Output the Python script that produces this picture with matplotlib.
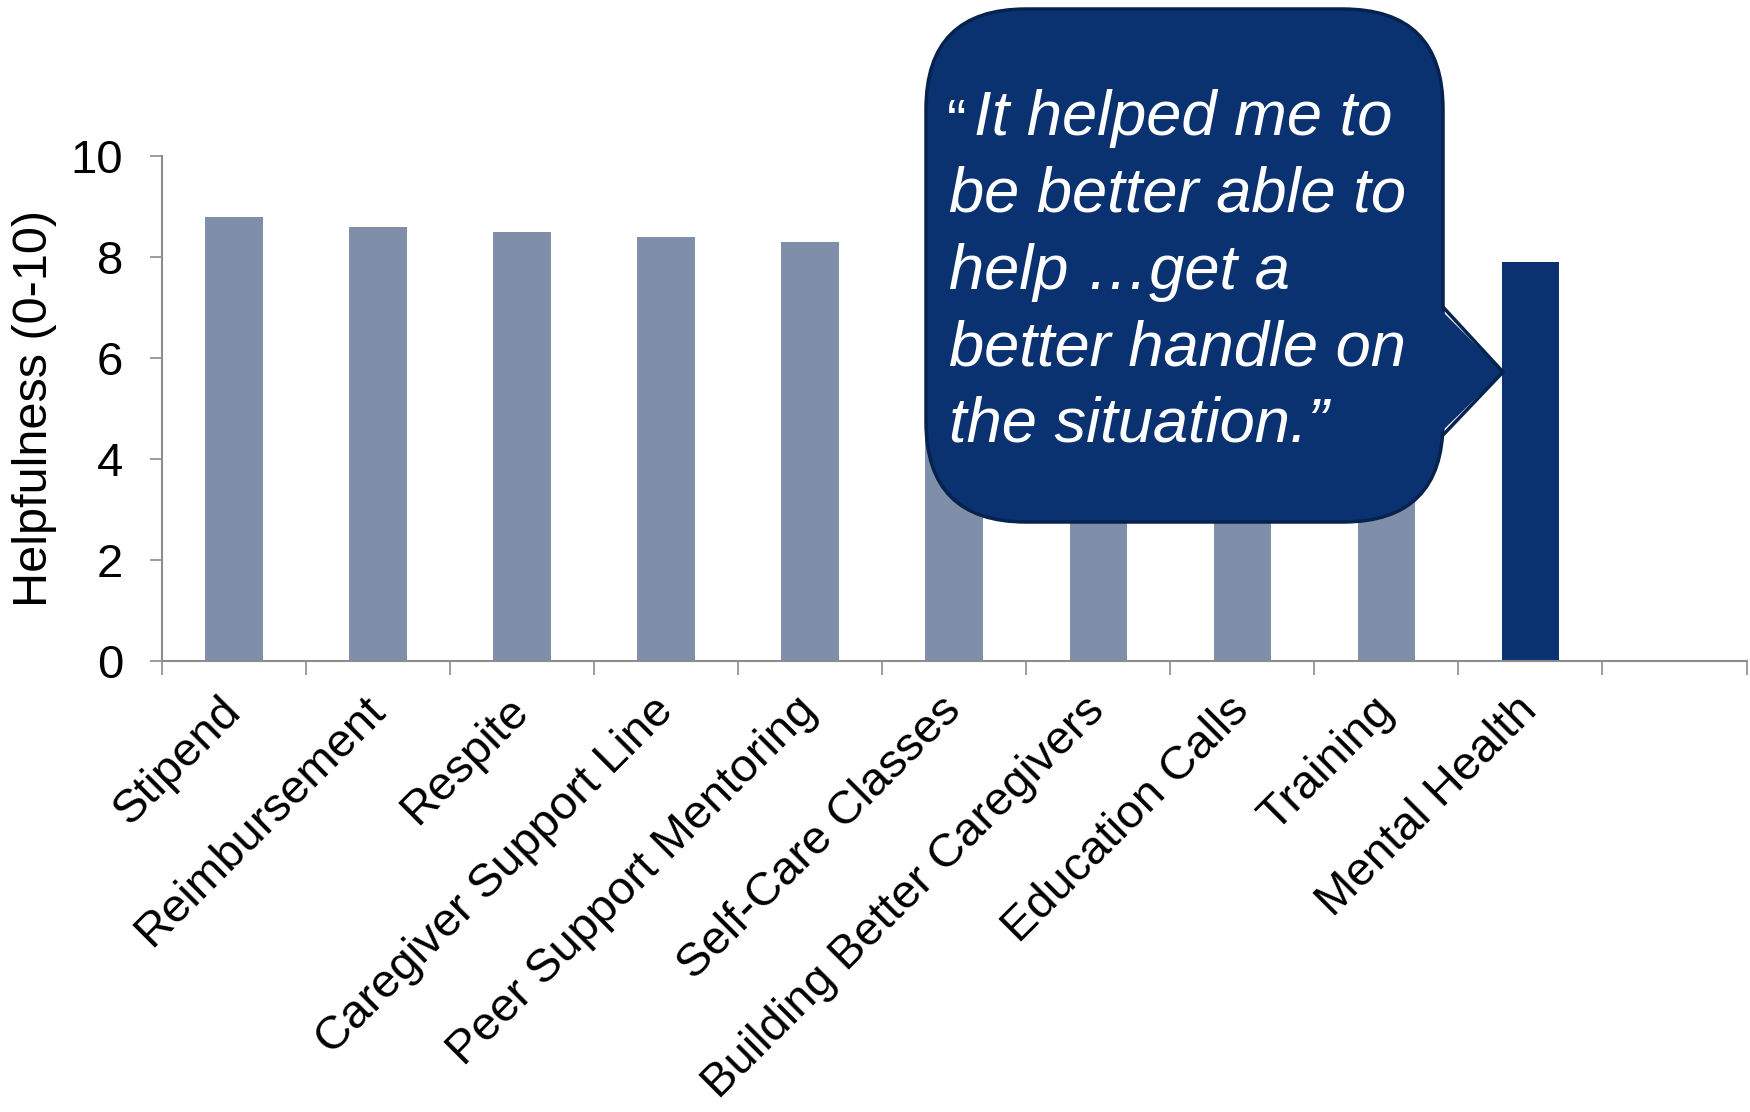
import numpy as np
import matplotlib
matplotlib.use("Agg")
import matplotlib.pyplot as plt
from matplotlib.patches import FancyBboxPatch, Polygon

plt.rcParams['font.family'] = ['Liberation Sans', 'DejaVu Sans']

categories = ["Stipend", "Reimbursement", "Respite", "Caregiver Support Line",
              "Peer Support Mentoring", "Self-Care Classes", "Building Better Caregivers",
              "Education Calls", "Training", "Mental Health"]
values = [8.8, 8.6, 8.5, 8.4, 8.3, 8.3, 8.2, 8.1, 8.0, 7.9]
highlight = "Mental Health"
quote_lines = ["It helped me to", "be better able to", "help \u2026get a",
               "better handle on", "the situation.\u201d"]

grey = "#7f8fa9"
navy = "#0a3170"
axis_grey = "#8c8c8c"

fig = plt.figure(figsize=(17.5, 11.12), dpi=100)
ax = fig.add_axes([0.0926, 0.4056, 0.9054, 0.4541])

n_slots = len(categories) + 1  # Excel leaves one empty category at the end
x = np.arange(len(categories))
colors = [navy if c == highlight else grey for c in categories]
ax.bar(x, values, width=0.4, color=colors)

ax.set_xlim(-0.5, n_slots - 0.5)
ax.set_ylim(0, 10)
ax.set_yticks([0, 2, 4, 6, 8, 10])
ax.tick_params(axis='y', labelsize=34, length=9, width=1.2, color=axis_grey, pad=19)

ax.set_xticks(np.arange(-0.5, n_slots, 1.0))
ax.set_xticklabels([])
ax.tick_params(axis='x', which='major', length=10, width=1.2, color=axis_grey)
ax.set_xticks(x, minor=True)
ax.set_xticklabels(categories, minor=True, rotation=45, ha='right', va='center',
                   rotation_mode='anchor', fontsize=34)
ax.tick_params(axis='x', which='minor', length=0, pad=31)

for s in ['top', 'right']:
    ax.spines[s].set_visible(False)
for s in ['left', 'bottom']:
    ax.spines[s].set_color(axis_grey)
    ax.spines[s].set_linewidth(1.5)

ax.set_ylabel("Helpfulness (0-10)", fontsize=35)
ax.yaxis.set_label_coords(-0.066, 0.5)

# callout overlay in pixel coordinates
ov = fig.add_axes([0, 0, 1, 1], zorder=5)
ov.set_xlim(0, 1750)
ov.set_ylim(1112, 0)
ov.axis('off')
ov.patch.set_alpha(0)

edge = "#06224f"
box = FancyBboxPatch((926, 9), 517, 513, boxstyle="round,pad=0,rounding_size=100",
                     facecolor=navy, edgecolor=edge, linewidth=2.5)
ov.add_patch(box)
ov.add_patch(Polygon([(1438, 307), (1503, 372), (1438, 435)], closed=True,
                     facecolor=navy, edgecolor='none'))
ov.plot([1443, 1503, 1443], [307, 372, 435], color=edge, linewidth=2.5,
        solid_joinstyle='miter')

# small opening quote mark, as in the original slide
ov.text(947, 140, "\u201c", color='white', fontsize=42, ha='left', va='baseline')
for i, line in enumerate(quote_lines):
    xs = 974 if i == 0 else 949
    ov.text(xs, 135 + i * 76.75, line, color='white', fontsize=45.5, style='italic',
            ha='left', va='baseline')

fig.savefig("out.png", dpi=100)
